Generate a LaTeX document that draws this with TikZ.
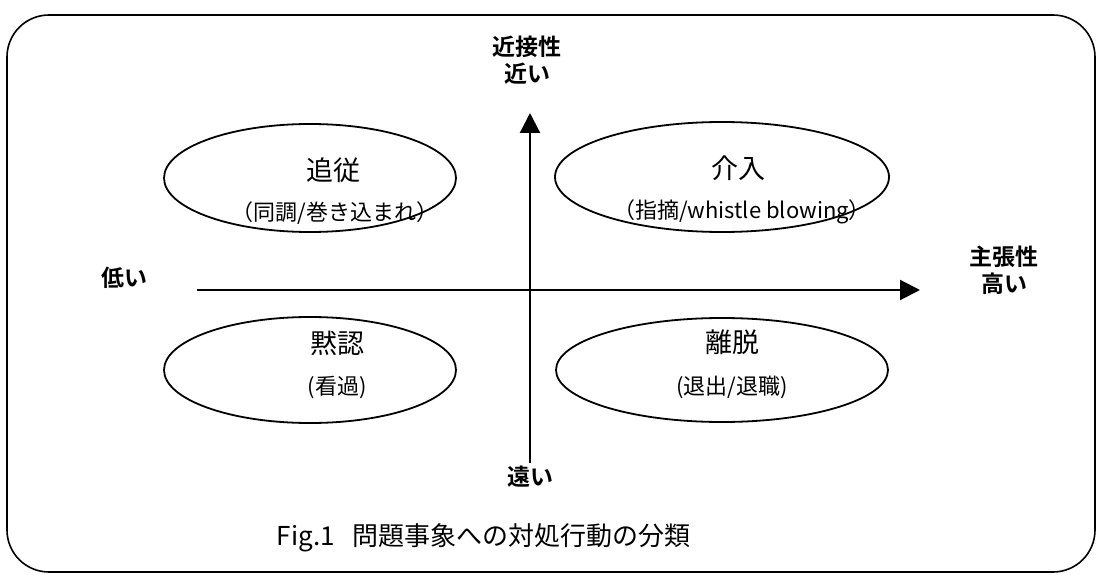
\documentclass[tikz,border=0pt]{standalone}
\usepackage{fontspec}
\usetikzlibrary{shapes.geometric,arrows.meta}
\newfontfamily\jp{Noto Sans CJK JP}
\newfontfamily\jpb{Noto Sans CJK JP Bold}
\begin{document}
\begin{tikzpicture}[x=1pt,y=-1pt,
  oval/.style={draw,ellipse,line width=1.8pt,inner sep=0pt},
  axis/.style={line width=2.2pt,-{Triangle[length=20pt,width=20pt]}},
  axlab/.style={font=\jpb\fontsize{23}{25}\selectfont,align=center,inner sep=0pt},
  mainlab/.style={font=\jp\fontsize{27}{29}\selectfont,inner sep=0pt},
  sublab/.style={font=\jp\fontsize{22}{24}\selectfont,inner sep=0pt}]
\useasboundingbox (0,0) rectangle (1096,575);
\draw[line width=1.6pt,rounded corners=42pt] (7,15) rectangle (1095,572);
% ellipses
\node[oval,minimum width=292pt,minimum height=108pt] (e1) at (310,178) {};
\node[oval,minimum width=334pt,minimum height=110pt] (e2) at (722,177) {};
\node[oval,minimum width=292pt,minimum height=106pt] (e3) at (310,370) {};
\node[oval,minimum width=332pt,minimum height=104pt] (e4) at (722,370) {};
% axes
\coordinate (xs) at (197,290);
\coordinate (xe) at (920,290);
\coordinate (ys) at (530,463);
\coordinate (ye) at (530,113);
\draw[axis] (xs) -- (xe);
\draw[axis] (ys) -- (ye);
% axis labels
\node[axlab] (top) at (527,60) {近接性\\[2pt]近い};
\node[axlab] (right) at (1004,270) {主張性\\[2pt]高い};
\node[axlab] (left) at (124,278) {低い};
\node[axlab] (bottom) at (530,477) {遠い};
% ellipse labels
\node[mainlab] (t1) at (333,170) {追従};
\node[sublab] (s1) at (335,213) {（同調/巻き込まれ）};
\node[mainlab] (t2) at (738,168) {介入};
\node[sublab] (s2) at (742,212) {（指摘/whistle blowing）};
\node[mainlab] (t3) at (337,343) {黙認};
\node[sublab] (s3) at (337,388) {(看過)};
\node[mainlab] (t4) at (732,342) {離脱};
\node[sublab] (s4) at (732,387) {(退出/退職)};
% caption
\node[font=\jp\fontsize{26}{28}\selectfont,inner sep=0pt] (cap) at (484,538) {Fig.1\hspace{0.7em}問題事象への対処行動の分類};
\end{tikzpicture}
\end{document}
